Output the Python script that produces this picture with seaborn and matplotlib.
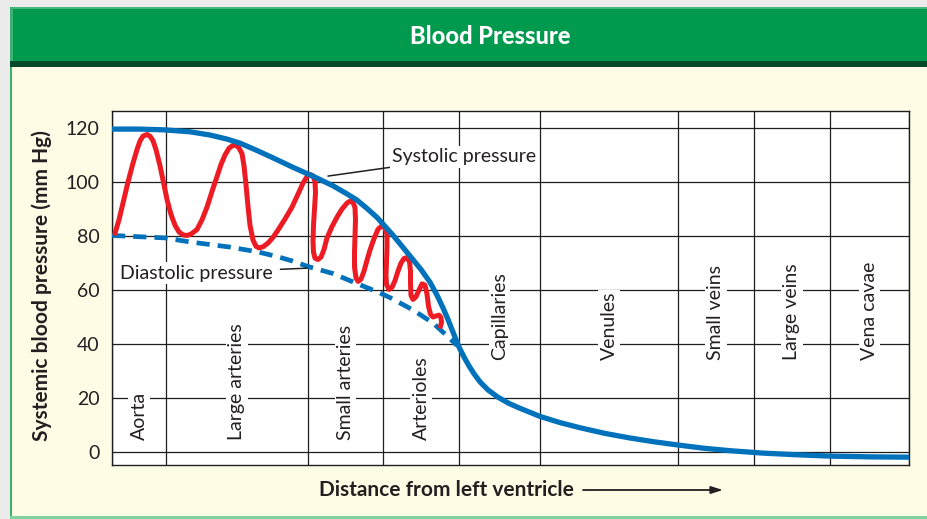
import matplotlib
matplotlib.use("Agg")
import matplotlib.pyplot as plt
from matplotlib.patches import Rectangle
import seaborn as sns

# vessel regions along the circulation (x is distance from the left ventricle, arbitrary units)
region_names = ["Aorta", "Large arteries", "Small arteries", "Arterioles", "Capillaries",
                "Venules", "Small veins", "Large veins", "Vena cavae"]
region_edges = [0, 54, 196, 271, 347, 428, 566, 642, 718, 797]

# systolic pressure (solid blue)
sys_x = [0, 28, 53, 78, 98, 115, 128, 146, 163, 180, 203, 221, 235, 245, 255, 265, 281, 298, 309,
         318, 325, 331, 336, 341, 347, 352, 357, 362, 368, 376, 386, 397, 408, 428, 448, 468, 493,
         518, 542, 566, 592, 618, 651, 690, 718, 760, 797]
sys_y = [119.6, 119.6, 119.3, 118.6, 117.4, 115.9, 114.4, 111.5, 108.6, 105.6, 101.8, 98.6, 95.6,
         93.3, 90.2, 86.9, 80.3, 72.6, 67.6, 62.9, 58.1, 53.4, 49.1, 44.4, 38.9, 35.2, 31.9, 29.0,
         26.0, 23.0, 20.3, 18.0, 16.2, 13.2, 10.9, 9.0, 6.9, 5.2, 3.8, 2.6, 1.4, 0.5, -0.4, -1.1,
         -1.5, -1.8, -1.9]

# diastolic pressure (dashed blue)
dia_x = [0, 53, 78, 118, 146, 165, 180, 196, 221, 241, 268, 278, 301, 321, 338, 345]
dia_y = [80.2, 79.3, 77.8, 75.9, 74.1, 72.4, 70.8, 68.7, 66.1, 63.0, 58.9, 57.2, 52.6, 47.8, 42.0,
         39.5]

# pulse pressure wave (red)
pulse_x = [3, 7, 11, 16, 21, 25, 28, 31, 35, 38, 41, 44, 48, 52, 55, 59, 63, 67, 71, 75, 79, 85,
           90, 95, 100, 105, 109, 113, 117, 121, 124, 127, 130, 132, 134, 136, 138, 141, 144, 147,
           151, 156, 161, 166, 173, 180, 186, 191, 195, 198, 201, 203, 203.5, 202.5, 201.5, 201,
           201.5, 203, 206, 209, 212, 215, 220, 225, 230, 235, 238, 241, 243, 243.5, 243, 242.5,
           242.5, 244, 246, 249, 252, 255, 258, 262, 266, 270, 273, 275, 275, 274.5, 274, 274.5,
           277, 280, 283, 286, 289, 292, 295, 297.5, 298.5, 298.5, 299, 301, 304, 307, 310, 313,
           315, 316.5, 318.5, 321, 324, 327, 329, 329.5, 328.5]
pulse_y = [81.0, 86.0, 92.2, 100.0, 107.0, 112.0, 115.2, 117.0, 117.6, 117.0, 115.3, 112.0, 106.0,
           99.0, 93.5, 88.0, 84.0, 81.5, 80.4, 80.2, 80.7, 82.4, 86.0, 90.7, 96.5, 102.0, 106.5,
           110.0, 112.5, 113.6, 113.6, 112.6, 110.5, 106.0, 99.0, 91.0, 84.0, 78.5, 76.2, 75.6,
           76.0, 77.4, 79.5, 82.2, 86.3, 90.7, 95.5, 99.6, 102.0, 102.8, 102.3, 100.3, 96.0, 90.0,
           84.0, 78.0, 74.0, 71.8, 71.3, 72.2, 75.0, 79.3, 83.5, 87.0, 90.0, 92.2, 92.9, 92.5, 90.5,
           86.0, 80.0, 74.0, 68.5, 64.5, 63.2, 64.0, 67.0, 71.0, 74.8, 79.0, 82.5, 83.8, 83.0, 80.5,
           76.0, 70.5, 65.5, 62.0, 60.2, 61.0, 63.5, 67.0, 70.0, 71.7, 72.0, 70.5, 67.0, 62.5, 58.0,
           56.5, 57.5, 60.0, 62.3, 61.8, 58.5, 54.0, 51.0, 50.0, 50.4, 50.7, 49.8, 48.0, 46.5]

y_ticks = [0, 20, 40, 60, 80, 100, 120]

blue = "#0072BC"
red = "#ED1C24"
grid_col = "#1E1E1E"
text_col = "#231F20"

sns.set_style("white")
plt.rcParams["font.family"] = ["Lato", "DejaVu Sans"]

W, H = 928, 519
fig = plt.figure(figsize=(W / 100, H / 100), dpi=100)
fig.patch.set_facecolor("#FFFCE6")


def px_rect(x, y, w, h, color):
    # rectangle given in pixels from the top-left corner
    fig.add_artist(Rectangle((x / W, 1 - (y + h) / H), w / W, h / H,
                             transform=fig.transFigure, facecolor=color, edgecolor="none", zorder=0))


# frame / header
px_rect(0, 0, W, 7, "#EBEBEB")
px_rect(0, 0, 10, H, "#EBEBEB")
px_rect(10, 7, W - 10, 54, "#009A4E")
px_rect(10, 7, W - 10, 2, "#46B779")
px_rect(10, 7, 3, 54, "#3BB271")
px_rect(10, 61, W - 10, 6, "#004A2A")
px_rect(10, 67, 2, H - 67, "#35B36A")
px_rect(10, 516, W - 10, 3, "#7ED39E")
fig.text(490 / W, 1 - 37 / H, "Blood Pressure", color="white", fontsize=17,
         fontweight="black", ha="center", va="center")

ax = fig.add_axes([112 / W, 1 - 465 / H, (909 - 112) / W, (465 - 111) / H])
ax.set_facecolor("white")

sns.lineplot(x=dia_x, y=dia_y, ax=ax, color=blue, lw=3.4, sort=False, estimator=None,
             linestyle=(0, (2.8, 1.7)), dash_capstyle="butt", zorder=4)
sns.lineplot(x=pulse_x, y=pulse_y, ax=ax, color=red, lw=3.6, sort=False, estimator=None,
             solid_capstyle="round", solid_joinstyle="round", zorder=5)
sns.lineplot(x=sys_x, y=sys_y, ax=ax, color=blue, lw=3.8, sort=False, estimator=None,
             solid_capstyle="butt", solid_joinstyle="round", zorder=6)

ax.set_xlim(region_edges[0], region_edges[-1])
ax.set_ylim(-4.8, 126.3)
ax.set_xticks(region_edges)
ax.set_xticklabels([])
ax.set_yticks(y_ticks)
ax.set_yticklabels([str(t) for t in y_ticks], fontsize=14, color=text_col)
ax.tick_params(axis="both", length=0)
ax.tick_params(axis="y", pad=9)
ax.grid(True, color=grid_col, lw=0.9)
ax.set_axisbelow(True)
for s in ax.spines.values():
    s.set_color(grid_col)
    s.set_linewidth(1.0)

# region labels, arterial side sits lower than the venous side
for i, name in enumerate(region_names):
    xm = (region_edges[i] + region_edges[i + 1]) / 2
    yb = 4.4 if i < 4 else 34
    ax.text(xm, yb, name, rotation=90, ha="center", va="bottom", fontsize=14, color=text_col,
            bbox=dict(facecolor="white", edgecolor="none", pad=1.5), zorder=3)

ax.annotate("Systolic pressure", xy=(216, 102.2), xytext=(280, 109.3), fontsize=14,
            color=text_col, ha="left", va="center",
            bbox=dict(facecolor="white", edgecolor="none", pad=1.5),
            arrowprops=dict(arrowstyle="-", color=text_col, lw=1.1, shrinkA=0, shrinkB=0),
            zorder=7)
ax.annotate("Diastolic pressure", xy=(195, 68.1), xytext=(8, 66.3), fontsize=14,
            color=text_col, ha="left", va="center",
            bbox=dict(facecolor="white", edgecolor="none", pad=1.5),
            arrowprops=dict(arrowstyle="-", color=text_col, lw=1.1, shrinkA=4, shrinkB=0),
            zorder=7)

fig.text(42 / W, 1 - 286 / H, "Systemic blood pressure (mm Hg)", rotation=90, fontsize=15,
         fontweight="bold", color=text_col, ha="center", va="center")
fig.text(446 / W, 1 - 490 / H, "Distance from left ventricle", fontsize=15,
         fontweight="bold", color=text_col, ha="center", va="center")
ax.annotate("", xy=(723 / W, 1 - 490 / H), xytext=(583 / W, 1 - 490 / H),
            xycoords="figure fraction", textcoords="figure fraction",
            arrowprops=dict(arrowstyle="-|>,head_length=0.7,head_width=0.22", color=text_col,
                            lw=1.3, shrinkA=0, shrinkB=0))

fig.savefig("out.png", dpi=100, facecolor=fig.get_facecolor())
